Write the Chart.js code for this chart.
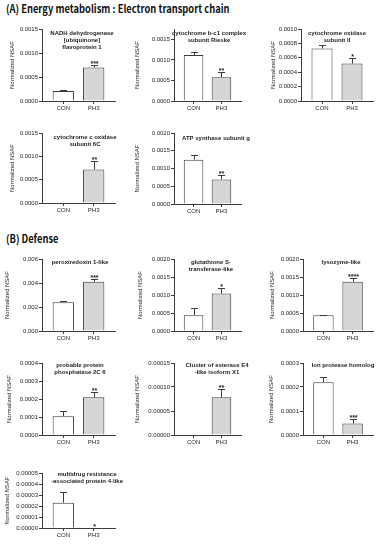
<!DOCTYPE html>
<html>
<head>
<meta charset="utf-8">
<script src="https://cdn.jsdelivr.net/npm/chart.js@4.4.1/dist/chart.umd.min.js"></script>
<style>
  body { margin: 0; background: #fff; }
  #fig { position: relative; width: 380px; height: 550px; overflow: hidden; }
  .head { position: absolute; left: 6px; font: bold 11px "Noto Sans CJK KR", sans-serif; color: #111; white-space: nowrap; line-height: 16px; transform: scaleX(0.85); transform-origin: 0 0; }
  #fig canvas { position: absolute; }
</style>
</head>
<body>
<div id="fig">
  <div class="head" style="top:0px">(A) Energy metabolism : Electron transport chain</div>
  <div class="head" style="top:230px">(B) Defense</div>
</div>
<script>
/* eslint-env browser */

// ------------------------
// Data
// ------------------------
const groups = ['CON', 'PH3']

const panelTitles = [
  ['NADH dehydrogenase', '[ubiquinone]', 'flavoprotein 1'],
  ['cytochrome b-c1 complex', 'subunit Rieske'],
  ['cytochrome oxidase', 'subunit II'],
  ['cytochrome c oxidase', 'subunit 6C'],
  ['ATP synthase subunit g'],
  ['peroxiredoxin 1-like'],
  ['glutathione S-', 'transferase-like'],
  ['lysozyme-like'],
  ['probable protein', 'phosphatase 2C 6'],
  ['Cluster of esterase E4', '-like isoform X1'],
  ['lon protease homolog'],
  ['multidrug resistance', '-associated protein 4-like'],
]

const conMeans = [0.00021, 0.00112, 0.00073, 0, 0.00125, 0.0024, 0.00044, 0.00044, 0.000104, 0, 0.00022, 0.000023]
const conErrors = [0.00002, 0.00006, 0.00005, 0, 0.00014, 0.0001, 0.00021, 0.00001, 0.00003, 0, 0.00002, 0.00001]
const ph3Means = [0.0007, 0.00058, 0.00052, 0.00072, 0.00069, 0.0041, 0.00104, 0.00137, 0.00021, 0.0000785, 0.000048, 0]
const ph3Errors = [0.00006, 0.00012, 0.00008, 0.00017, 0.00014, 0.0002, 0.00015, 0.00009, 0.00003, 0.000017, 0.000017, 0]
const ph3Stars = ['***', '**', '*', '**', '**', '***', '*', '****', '**', '**', '***', '*']

const yMax = [0.0015, 0.00175, 0.001, 0.0015, 0.002, 0.006, 0.002, 0.002, 0.0004, 0.00015, 0.0003, 0.00005]
const yTickLabels = [
  ['0.0000', '0.0005', '0.0010', '0.0015'],
  ['0.0000', '0.0005', '0.0010', '0.0015'],
  ['0.0000', '0.0002', '0.0004', '0.0006', '0.0008', '0.0010'],
  ['0.0000', '0.0005', '0.0010', '0.0015'],
  ['0.0000', '0.0005', '0.0010', '0.0015', '0.0020'],
  ['0.000', '0.002', '0.004', '0.006'],
  ['0.0000', '0.0005', '0.0010', '0.0015', '0.0020'],
  ['0.0000', '0.0005', '0.0010', '0.0015', '0.0020'],
  ['0.0000', '0.0001', '0.0002', '0.0003', '0.0004'],
  ['0.00000', '0.00005', '0.00010', '0.00015'],
  ['0.0000', '0.0001', '0.0002', '0.0003'],
  ['0.00000', '0.00001', '0.00002', '0.00003', '0.00004', '0.00005'],
]

// ------------------------
// Layout (page pixels)
// ------------------------
// x: y-axis line, r: end of x-axis, top/bottom: plot area,
// yTitleX: centre of the rotated axis title, titleX/titleY: centre of first title line
const boxes = [
  { x: 42, r: 115, top: 29, bottom: 101, yTitleX: 13, titleX: 82, titleY: 33 },
  { x: 174, r: 241, top: 29, bottom: 101, yTitleX: 138, titleX: 209, titleY: 33 },
  { x: 301, r: 373, top: 29, bottom: 101, yTitleX: 274, titleX: 337, titleY: 33 },
  { x: 42, r: 115, top: 133, bottom: 203, yTitleX: 13, titleX: 85, titleY: 137 },
  { x: 174, r: 241, top: 133, bottom: 204, yTitleX: 138, titleX: 216, titleY: 138 },
  { x: 42, r: 115, top: 259, bottom: 331, yTitleX: 8, titleX: 80, titleY: 262 },
  { x: 174, r: 241, top: 259, bottom: 331, yTitleX: 141, titleX: 211, titleY: 262 },
  { x: 303, r: 373, top: 259, bottom: 331, yTitleX: 273, titleX: 341, titleY: 262 },
  { x: 42, r: 115, top: 363, bottom: 435, yTitleX: 10, titleX: 80, titleY: 365 },
  { x: 174, r: 241, top: 363, bottom: 435, yTitleX: 138, titleX: 217, titleY: 365 },
  { x: 303, r: 373, top: 363, bottom: 435, yTitleX: 272, titleX: 343, titleY: 365 },
  { x: 42, r: 115, top: 473, bottom: 528, yTitleX: 8, titleX: 87, titleY: 474 },
]

const INK = '#1e1e1e'
const LINE = '#3c3c3c'
const PAD_TOP = 6
const PAD_RIGHT = 20
const X_AXIS_H = 16

Chart.defaults.font.family = '"Liberation Sans", Arial, sans-serif'
Chart.defaults.color = INK

// ------------------------
// Helpers
// ------------------------

// error whiskers, significance stars and the in-plot title
const extras = {
  id: 'extras',
  afterDatasetsDraw(chart, _args, opts) {
    const { ctx, chartArea, scales } = chart
    const { x, y } = scales
    const { means, errors, stars, title, box } = opts

    ctx.save()
    ctx.strokeStyle = LINE
    ctx.fillStyle = INK
    ctx.lineWidth = 1
    ctx.textAlign = 'center'

    groups.forEach((_g, i) => {
      const cx = Math.round(x.getPixelForValue(i + 1)) + 0.5
      const yMean = y.getPixelForValue(means[i])
      const yTop = y.getPixelForValue(means[i] + errors[i])
      if (errors[i] > 0) {
        const capY = Math.round(yTop) + 0.5
        ctx.beginPath()
        ctx.moveTo(cx, yMean)
        ctx.lineTo(cx, capY)
        ctx.moveTo(cx - 3.5, capY)
        ctx.lineTo(cx + 3.5, capY)
        ctx.stroke()
      }
      if (stars[i]) {
        ctx.font = 'bold 7px "Liberation Sans", Arial, sans-serif'
        ctx.textBaseline = 'alphabetic'
        ctx.fillText(stars[i], cx, yTop + 1)
      }
    })

    ctx.font = 'bold 6px "Liberation Sans", Arial, sans-serif'
    ctx.textBaseline = 'middle'
    const tx = box.titleX - box.x + chartArea.left
    const ty = box.titleY - box.top + chartArea.top
    title.forEach((line, k) => ctx.fillText(line, tx, ty + k * 7.2))
    ctx.restore()
  },
}

const fig = document.querySelector('#fig')

boxes.forEach((box, i) => {
  const yw = Math.round(box.x - box.yTitleX + 3.6)
  const canvas = document.createElement('canvas')
  canvas.width = yw + (box.r - box.x) + PAD_RIGHT
  canvas.height = (box.bottom - box.top) + PAD_TOP + X_AXIS_H
  canvas.style.left = `${box.x - yw}px`
  canvas.style.top = `${box.top - PAD_TOP}px`
  fig.appendChild(canvas)

  const points = groups.map((_g, k) => ({ x: k + 1, y: k === 0 ? conMeans[i] : ph3Means[i] }))

  new Chart(canvas, {
    type: 'bar',

    data: {
      datasets: [
        {
          data: points,
          backgroundColor: ['#ffffff', '#d6d6d6'],
          borderColor: LINE,
          borderWidth: 1,
          categoryPercentage: 1,
          barPercentage: 0.7,
        },
      ],
    },

    options: {
      responsive: false,
      animation: false,
      events: [],
      layout: { padding: { top: PAD_TOP, right: PAD_RIGHT, bottom: 0, left: 0 } },

      scales: {
        x: {
          type: 'linear',
          offset: false,
          min: 0.3,
          max: 2.7,
          afterBuildTicks: (s) => {
            s.ticks = groups.map((_g, k) => ({ value: k + 1 }))
          },
          afterFit: (s) => {
            s.height = X_AXIS_H
          },
          ticks: {
            callback: (v) => groups[v - 1],
            font: { size: 6 },
            padding: 1,
            maxRotation: 0,
            autoSkip: false,
          },
          grid: { offset: false, drawOnChartArea: false, tickLength: 3, color: LINE },
          border: { color: LINE, width: 1 },
        },
        y: {
          min: 0,
          max: yMax[i],
          afterBuildTicks: (s) => {
            s.ticks = yTickLabels[i].map((t) => ({ value: parseFloat(t) }))
          },
          afterFit: (s) => {
            s.width = yw
          },
          ticks: {
            callback: (_v, k) => yTickLabels[i][k],
            font: { size: 6 },
            padding: 1,
            autoSkip: false,
          },
          title: {
            display: true,
            text: 'Normalized NSAF',
            font: { size: 6 },
            padding: 0,
          },
          grid: { drawOnChartArea: false, tickLength: 3, color: LINE },
          border: { color: LINE, width: 1 },
        },
      },

      plugins: {
        legend: { display: false },
        tooltip: { enabled: false },
        extras: {
          means: [conMeans[i], ph3Means[i]],
          errors: [conErrors[i], ph3Errors[i]],
          stars: ['', ph3Stars[i]],
          title: panelTitles[i],
          box,
        },
      },
    },

    plugins: [extras],
  })
})
</script>
</body>
</html>
